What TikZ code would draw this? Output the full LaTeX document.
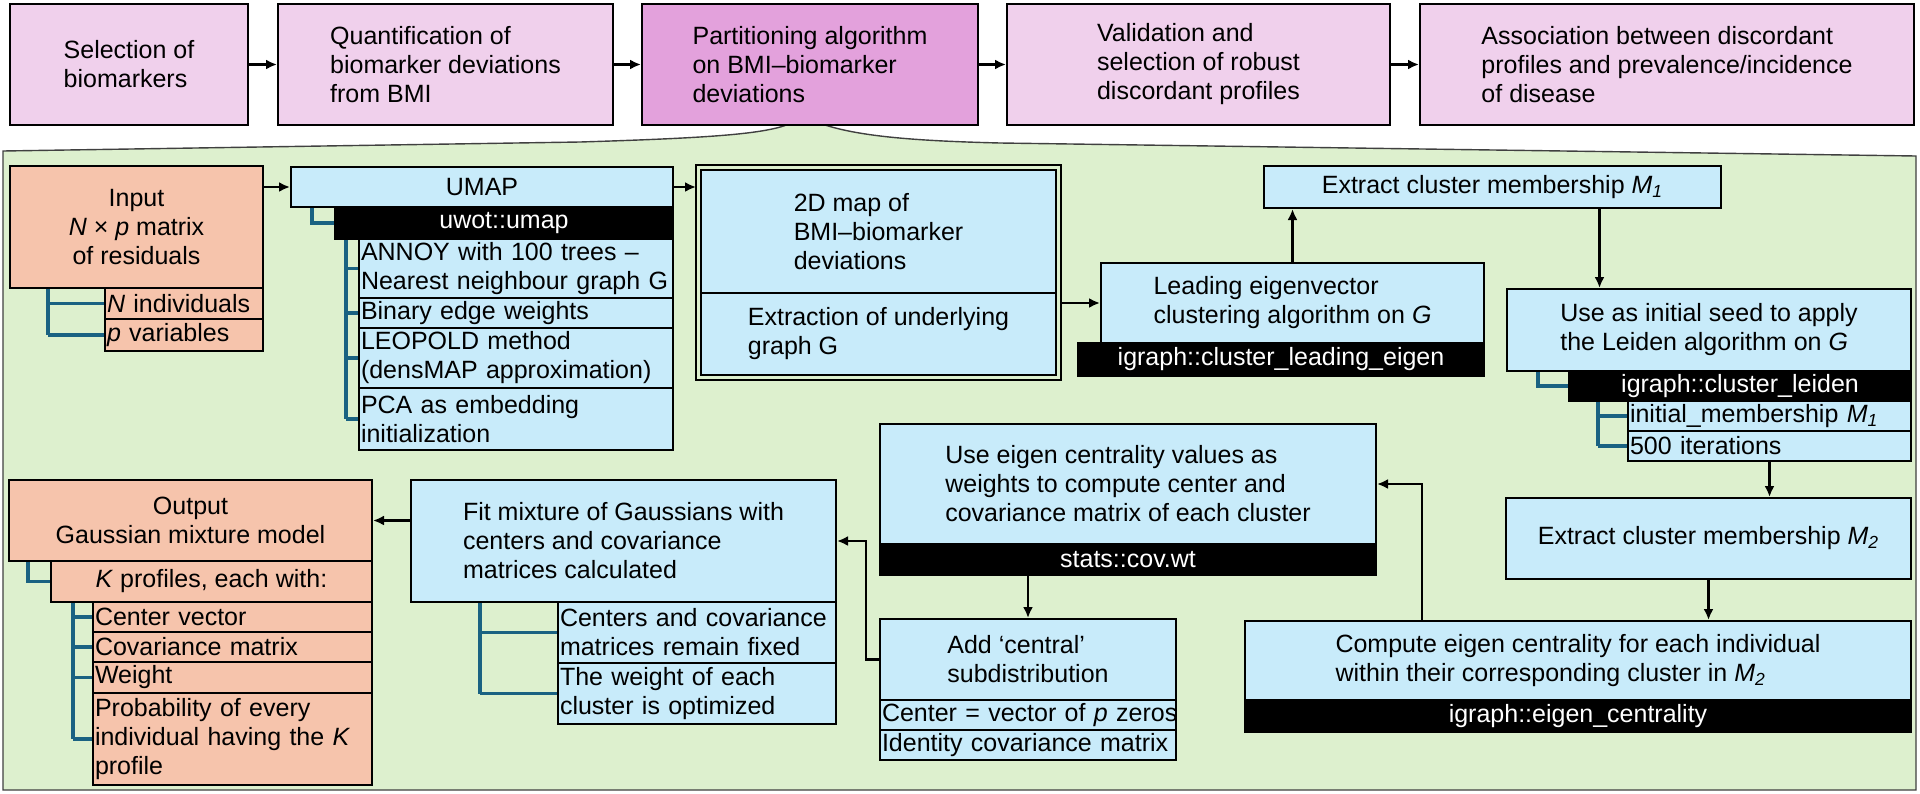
\documentclass[tikz,border=0pt]{standalone}
\usepackage{fontspec}
\setmainfont{Liberation Sans}
\usepackage{tikz}
\usetikzlibrary{arrows.meta}
\definecolor{stagepink}{HTML}{F0D0EC}
\definecolor{stagemag}{HTML}{E3A1DC}
\definecolor{panelgreen}{HTML}{DDF0CE}
\definecolor{boxblue}{HTML}{C8EBFA}
\definecolor{boxsalmon}{HTML}{F6C4AC}
\definecolor{brteal}{HTML}{1A6282}
\tikzset{>/.tip={Latex[length=5.5pt,width=5pt]},
  every node/.style={font=\fontsize{12.5pt}{14.5pt}\selectfont, inner sep=0pt, anchor=north west},
  stage/.style={draw, line width=1pt, fill=stagepink, align=left, minimum height=60.5pt},
  bluebox/.style={draw, line width=1pt, fill=boxblue, align=left},
  salbox/.style={draw, line width=1pt, fill=boxsalmon, align=center},
  codebar/.style={draw, line width=1pt, fill=black, text=white},
  bitem/.style={draw, line width=1pt, fill=boxblue, align=left, inner xsep=1pt, text width=#1},
  sitem/.style={draw, line width=1pt, fill=boxsalmon, align=left, inner xsep=1pt, text width=#1},
  bracket/.style={draw=brteal, line width=1.8pt},
  flow/.style={->, line width=1.1pt}}

\begin{document}
\begin{tikzpicture}[x=0.5pt, y=-0.5pt]
\useasboundingbox (0,0) rectangle (1920,793);
\filldraw[fill=panelgreen, draw=black!75, line width=0.7pt] (3,790) -- (3,151) -- (580,142)
  .. controls (710,138) and (765,134) .. (789,124) -- (822,124)
  .. controls (860,137) and (920,141) .. (1000,143) -- (1916,156) -- (1916,790) -- cycle;

\node[stage, minimum width=119pt] (sel) at (9,3) {Selection of\\biomarkers};
\node[stage, minimum width=167.5pt] (quant) at (277,3) {Quantification of\\biomarker deviations\\from BMI};
\node[stage, fill=stagemag, minimum width=168pt] (part) at (641,3) {Partitioning algorithm\\on BMI–biomarker\\deviations};
\node[stage, minimum width=191.5pt] (valid) at (1006,3) {Validation and\\selection of robust\\discordant profiles};
\node[stage, minimum width=247pt] (assoc) at (1419,3) {Association between discordant\\profiles and prevalence/incidence\\of disease};
\foreach \i/\j in {sel/quant, quant/part, part/valid, valid/assoc}
{
  \draw[flow] (\i) -- (\j);
}

\node[salbox, minimum width=126.5pt, minimum height=61pt] (input) at (9,165) {Input\\\textit{N} × \textit{p} matrix\\of residuals};
\node[sitem=77pt, minimum height=15.5pt] (nind) at (104,287) {\textit{N} individuals};
\node[sitem=77pt, minimum height=16pt] (pvar) at (104,318) {\textit{p} variables};

\node[bluebox, align=center, minimum width=191pt, minimum height=20pt] (umap) at (290,166) {UMAP};
\node[codebar, minimum width=169pt, minimum height=16pt] (uwot) at (334,206) {uwot::umap};
\node[bitem=155pt, minimum height=29.5pt] (annoy) at (358,238) {ANNOY with 100 trees –\\\mbox{Nearest neighbour graph G}};
\node[bitem=155pt, minimum height=15pt] (binary) at (358,297) {Binary edge weights};
\node[bitem=155pt, minimum height=30pt] (leopold) at (358,327) {LEOPOLD method\\(densMAP approximation)};
\node[bitem=155pt, minimum height=31pt] (pca) at (358,387) {PCA as embedding\\initialization};

\node[bluebox, minimum width=177.5pt, minimum height=61.5pt] (mapA) at (700,169) {2D map of\\BMI–biomarker\\deviations};
\node[bluebox, minimum width=177.5pt, minimum height=41pt] (mapB) at (700,292) {Extraction of underlying\\graph G};
\draw[line width=1pt] ([shift={(-2pt,2pt)}]mapA.north west) rectangle ([shift={(2pt,-2pt)}]mapB.south east);

\node[bluebox, minimum width=191.5pt, minimum height=40pt] (lead) at (1100,262) {Leading eigenvector\\clustering algorithm on \textit{G}};
\node[codebar, minimum width=203pt, minimum height=16.5pt] (leadbar) at (1077,342) {igraph::cluster\_leading\_eigen};
\node[bluebox, align=center, minimum width=228.5pt, minimum height=21pt] (ext1) at (1263,165) {Extract cluster membership \textit{M\textsubscript{1}}};
\node[bluebox, minimum width=202pt, minimum height=41pt] (seed) at (1506,288) {Use as initial seed to apply\\the Leiden algorithm on \textit{G}};
\node[codebar, minimum width=171pt, minimum height=15pt] (leidbar) at (1568,370) {igraph::cluster\_leiden};
\node[bitem=139.5pt, minimum height=15pt] (init) at (1627,400) {initial\_membership \textit{M\textsubscript{1}}};
\node[bitem=139.5pt, minimum height=15pt] (iter) at (1627,430) {500 iterations};
\node[bluebox, align=center, minimum width=202.5pt, minimum height=40.5pt] (ext2) at (1505,497) {Extract cluster membership \textit{M\textsubscript{2}}};
\node[bluebox, minimum width=333pt, minimum height=39.5pt] (comp) at (1244,620) {Compute eigen centrality for each individual\\within their corresponding cluster in \textit{M\textsubscript{2}}};
\node[codebar, minimum width=333pt, minimum height=16pt] (compbar) at (1244,699) {igraph::eigen\_centrality};

\node[bluebox, minimum width=248pt, minimum height=60pt] (useeig) at (879,423) {Use eigen centrality values as\\weights to compute center and\\covariance matrix of each cluster};
\node[codebar, minimum width=248pt, minimum height=15.5pt] (covbar) at (879,543) {stats::cov.wt};
\node[bluebox, minimum width=148pt, minimum height=40.5pt] (add) at (879,618) {Add ‘central’\\subdistribution};
\node[bitem=146pt, minimum height=15pt] (cvec) at (879,699) {\mbox{Center = vector of \textit{p} zeros}};
\node[bitem=146pt, minimum height=15pt] (ident) at (879,729) {\mbox{Identity covariance matrix}};

\node[bluebox, minimum width=212.5pt, minimum height=61pt] (fit) at (410,479) {Fit mixture of Gaussians with\\centers and covariance\\matrices calculated};
\node[bitem=137pt, minimum height=30.5pt] (centers) at (557,601) {\mbox{Centers and covariance}\\matrices remain fixed};
\node[bitem=137pt, minimum height=30.5pt] (wopt) at (557,662) {The weight of each\\cluster is optimized};

\node[salbox, minimum width=181.5pt, minimum height=40.5pt] (output) at (8,479) {Output\\Gaussian mixture model};
\node[salbox, minimum width=160.5pt, minimum height=20.5pt] (kprof) at (50,560) {\textit{K} profiles, each with:};
\node[sitem=137.5pt, minimum height=15pt] (cvecK) at (92,601) {Center vector};
\node[sitem=137.5pt, minimum height=15pt] (covm) at (92,631) {Covariance matrix};
\node[sitem=137.5pt, minimum height=15.5pt] (wt) at (92,661) {Weight};
\node[sitem=137.5pt, minimum height=46pt] (prob) at (92,692) {Probability of every\\individual having the \textit{K}\\profile};

\coordinate (inbr) at ([xshift=19.5pt]input.south west);
\draw[bracket] (inbr) -- (inbr |- pvar.west);
\foreach \i in {nind,pvar}
{
  \draw[bracket] (inbr |- \i.west) -- (\i.west);
}
\draw[bracket] ([xshift=11pt]umap.south west) |- (uwot.west);
\coordinate (uwbr) at ([xshift=6pt]uwot.south west);
\draw[bracket] (uwbr) -- (uwbr |- pca.west);
\foreach \i in {annoy,binary,leopold,pca}
{
  \draw[bracket] (uwbr |- \i.west) -- (\i.west);
}
\draw[bracket] ([xshift=16pt]seed.south west) |- (leidbar.west);
\coordinate (lbr) at ([xshift=15pt]leidbar.south west);
\draw[bracket] (lbr) -- (lbr |- iter.west);
\foreach \i in {init,iter}
{
  \draw[bracket] (lbr |- \i.west) -- (\i.west);
}
\draw[bracket] ([xshift=10pt]output.south west) |- (kprof.west);
\coordinate (kbr) at ([xshift=11.5pt]kprof.south west);
\draw[bracket] (kbr) -- (kbr |- prob.west);
\foreach \i in {cvecK,covm,wt,prob}
{
  \draw[bracket] (kbr |- \i.west) -- (\i.west);
}
\coordinate (fbr) at ([xshift=35pt]fit.south west);
\draw[bracket] (fbr) -- (fbr |- wopt.west);
\foreach \i in {centers,wopt}
{
  \draw[bracket] (fbr |- \i.west) -- (\i.west);
}

\draw[flow] (input.east |- umap) -- (umap);
\draw[flow] (umap.east) -- ([xshift=-2pt]umap.east -| mapA.west);
\draw[flow] ([xshift=2pt]mapB.east |- lead) -- (lead);
\draw[flow] (lead.north) -- (lead.north |- ext1.south);
\draw[flow] ([xshift=53.5pt]ext1.south) -- ([xshift=53.5pt]ext1.south |- seed.north);
\draw[flow] (iter.south) -- (iter.south |- ext2.north);
\draw[flow] (ext2.south) -- (ext2.south |- comp.north);
\draw[flow] ([xshift=89pt]comp.north west) |- (useeig.east);
\draw[flow] (add.north |- covbar.south) -- (add.north);
\draw[flow] (add.west) -- ++(-6.5pt,0) |- (fit.east);
\draw[flow] (fit.west |- output) -- (output);
\end{tikzpicture}
\end{document}
